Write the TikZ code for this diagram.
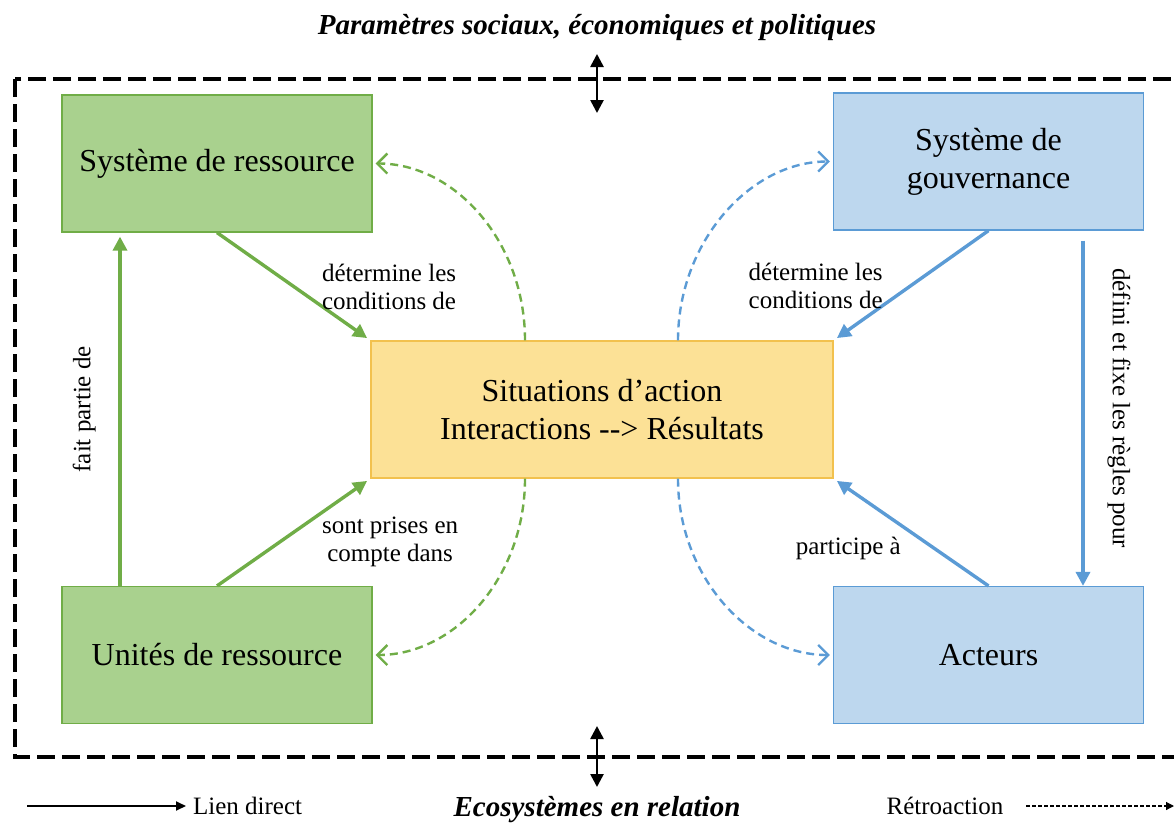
\documentclass[tikz,border=0pt]{standalone}
\usepackage{fontspec}
\setmainfont{Liberation Serif}
\usetikzlibrary{arrows.meta, positioning}

\definecolor{resfill}{HTML}{A9D18E}
\definecolor{resline}{HTML}{70AD47}
\definecolor{govfill}{HTML}{BDD7EE}
\definecolor{govline}{HTML}{5B9BD5}
\definecolor{actfill}{HTML}{FCE196}
\definecolor{actline}{HTML}{F2C14E}

\begin{document}
\begin{tikzpicture}[
  x=0.5pt, y=-0.5pt,
  direct/.style={-{Triangle[length=7pt,width=7pt]}, line width=1.7pt},
  retro/.style={-{Straight Barb[length=5pt,width=10pt]}, line width=1.2pt, dash pattern=on 4pt off 2.5pt, shorten >=1.5pt},
  box/.style={rectangle, draw, line width=0.6pt, minimum width=155pt, minimum height=68.5pt, align=center, font=\fontsize{16}{19}\selectfont},
  lbl/.style={font=\fontsize{12.5}{14}\selectfont, align=center, text=black},
  titre/.style={font=\fontsize{14.5}{17}\selectfont\bfseries\itshape},
  cadre/.style={line width=2.2pt, dash pattern=on 9pt off 3.5pt},
  dbl/.style={{Triangle[length=6.5pt,width=6.5pt]}-{Triangle[length=6.5pt,width=6.5pt]}, line width=1.3pt}
]
\useasboundingbox (0,0) rectangle (1174,825);

% cadre et titres
\draw[cadre] (15,79) rectangle (1190,757);
\node[titre] (P) at (597,28) {Paramètres sociaux, économiques et politiques};
\node[titre] (E) at (597,810) {Ecosystèmes en relation};
\coordinate (h1) at (597,54);
\coordinate (h2) at (597,113);
\coordinate (b1) at (597,726);
\coordinate (b2) at (597,787);
\draw[dbl] (h1) -- (h2);
\draw[dbl] (b1) -- (b2);

% boites
\node[box, fill=resfill, draw=resline] (SR) at (217,163.5) {Système de ressource};
\node[box, fill=govfill, draw=govline] (SG) at (988.5,161.5) {Système de\\gouvernance};
\node[box, fill=actfill, draw=actline, minimum width=231pt] (SA) at (602,409.5) {Situations d’action\\Interactions {-}{-}> Résultats};
\node[box, fill=resfill, draw=resline] (UR) at (217,655) {Unités de ressource};
\node[box, fill=govfill, draw=govline] (AC) at (988.5,655) {Acteurs};

% liens directs
\draw[direct, resline, shorten >=2pt] (SR.south) -- node[lbl, midway, right=10pt] {détermine les\\conditions de} (SA.north west);
\draw[direct, resline, shorten >=2pt] (UR.north) -- node[lbl, midway, right=10pt, yshift=-5pt] {sont prises en\\compte dans} (SA.south west);
\draw[direct, resline, shorten >=2pt] ([xshift=-48.5pt]UR.north) -- node[lbl, midway, xshift=-8pt, rotate=90, anchor=south] {fait partie de} ([xshift=-48.5pt]SR.south);
\draw[direct, govline, shorten >=2pt] (SG.south) -- node[lbl, midway, left=10pt] {détermine les\\conditions de} (SA.north east);
\draw[direct, govline, shorten >=2pt] (AC.north) -- node[lbl, midway, left=1pt, yshift=-8pt] {participe à} (SA.south east);
\draw[direct, govline, shorten <=5pt] ([xshift=47.25pt]SG.south) -- node[lbl, midway, xshift=8pt, rotate=-90, anchor=south] {défini et fixe les règles pour} ([xshift=47.25pt]AC.north);

% retroactions
\draw[retro, resline] ([xshift=-38.5pt]SA.north) .. controls +(0,-98) and +(83,0) .. (SR.east);
\draw[retro, resline] ([xshift=-38.5pt]SA.south) .. controls +(0,98) and +(83,0) .. (UR.east);
\draw[retro, govline] ([xshift=38pt]SA.north) .. controls +(0,-98) and +(-83,0) .. (SG.west);
\draw[retro, govline] ([xshift=38pt]SA.south) .. controls +(0,98) and +(-83,0) .. (AC.west);

% legende
\coordinate (L0) at (27,806);
\node[lbl, anchor=west] (LD) at (186,806) {Lien direct};
\draw[-{Triangle[length=5pt,width=4.5pt]}, line width=1pt] (L0) -- (LD.west);
\node[lbl] (RT) at (945,806) {Rétroaction};
\coordinate (R1) at (1174,806);
\draw[-{Triangle[length=4pt,width=4pt]}, line width=0.6pt, dash pattern=on 2pt off 1pt, shorten <=8pt] (RT.east) -- (R1);
\end{tikzpicture}
\end{document}
